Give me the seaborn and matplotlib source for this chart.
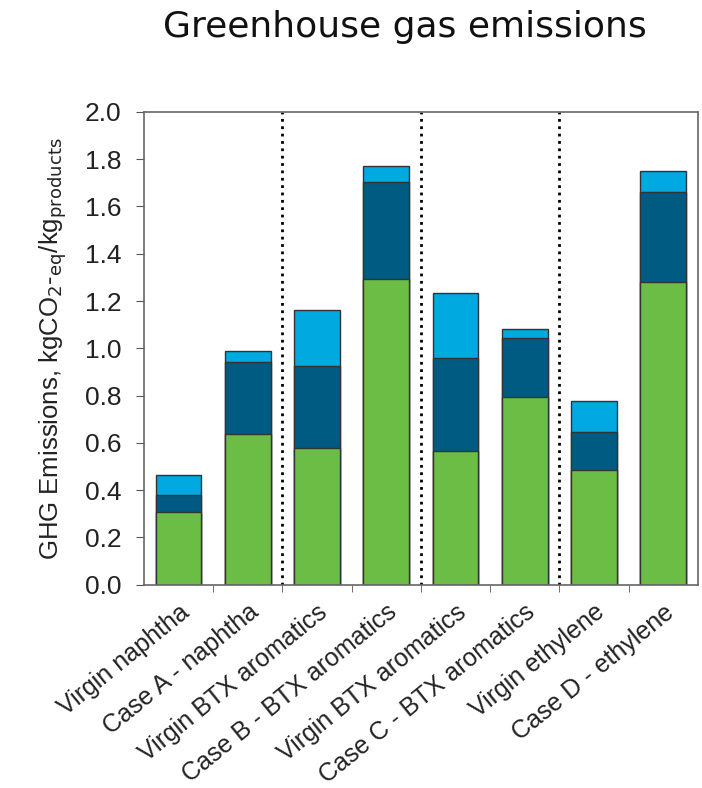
import seaborn as sns
import matplotlib.pyplot as plt
import pandas as pd
import numpy as np

# values (kgCO2-eq / kg products)
cases = ['Virgin naphtha', 'Case A - naphtha', 'Virgin BTX aromatics', 'Case B - BTX aromatics',
         'Virgin BTX aromatics', 'Case C - BTX aromatics', 'Virgin ethylene', 'Case D - ethylene']
green = [0.307, 0.637, 0.578, 1.293, 0.567, 0.796, 0.486, 1.282]
dark_blue = [0.071, 0.307, 0.345, 0.412, 0.394, 0.246, 0.162, 0.381]
light_blue = [0.087, 0.046, 0.240, 0.068, 0.272, 0.039, 0.127, 0.089]
group_breaks = [1.5, 3.5, 5.5]

df = pd.DataFrame({'pos': range(len(cases)), 'green': green,
                   'dark': dark_blue, 'light': light_blue})
# cumulative heights, drawn tallest first so each layer covers the one behind
df['lvl1'] = df['green']
df['lvl2'] = df['green'] + df['dark']
df['lvl3'] = df['lvl2'] + df['light']

sns.set_style('white')
plt.rcParams['font.family'] = ['Liberation Sans', 'DejaVu Sans']

fig = plt.figure(figsize=(7.02, 7.88), dpi=100)
ax = fig.add_axes([0.205, 0.258, 0.789, 0.600])

for col, c in [('lvl3', '#00a9e0'), ('lvl2', '#005b83'), ('lvl1', '#6cbd45')]:
    sns.barplot(data=df, x='pos', y=col, color=c, width=0.66, saturation=1,
                edgecolor='#333333', linewidth=1, ax=ax)

for b in group_breaks:
    ax.axvline(b, color='black', linestyle=':', linewidth=2)

ax.set_xlim(-0.5, 7.5)
ax.set_ylim(0, 2.0)
ticks = np.arange(0, 2.01, 0.2)
ax.set_yticks(ticks)
ax.set_yticklabels([f'{v:.1f}' for v in ticks], fontsize=19, color='#222222')
ax.set_xticks(range(len(cases)))
ax.set_xticklabels(cases, rotation=39, ha='right', va='top', rotation_mode='anchor',
                   fontsize=18, color='#222222')
ax.set_xticks(np.arange(0.5, 7, 1), minor=True)
ax.tick_params(axis='x', which='major', length=0, pad=11)
ax.tick_params(axis='x', which='minor', length=5, color='#555555', direction='out', bottom=True)
ax.tick_params(axis='y', length=6, pad=10, color='#555555', direction='out', left=True)
for s in ax.spines.values():
    s.set_color('#666666')
    s.set_linewidth(1.2)

ax.set_xlabel('')
ax.set_ylabel(r'GHG Emissions, kgCO$_2$-$_{\mathrm{eq}}$/kg$_{\mathrm{products}}$', fontsize=18.5,
              color='#222222')
ax.yaxis.set_label_coords(-0.135, 0.5)

fig.text(0.577, 0.966, 'Greenhouse gas emissions', ha='center', va='center',
         fontsize=26, family='DejaVu Sans', color='#111111')

fig.savefig('out.png', dpi=100)
